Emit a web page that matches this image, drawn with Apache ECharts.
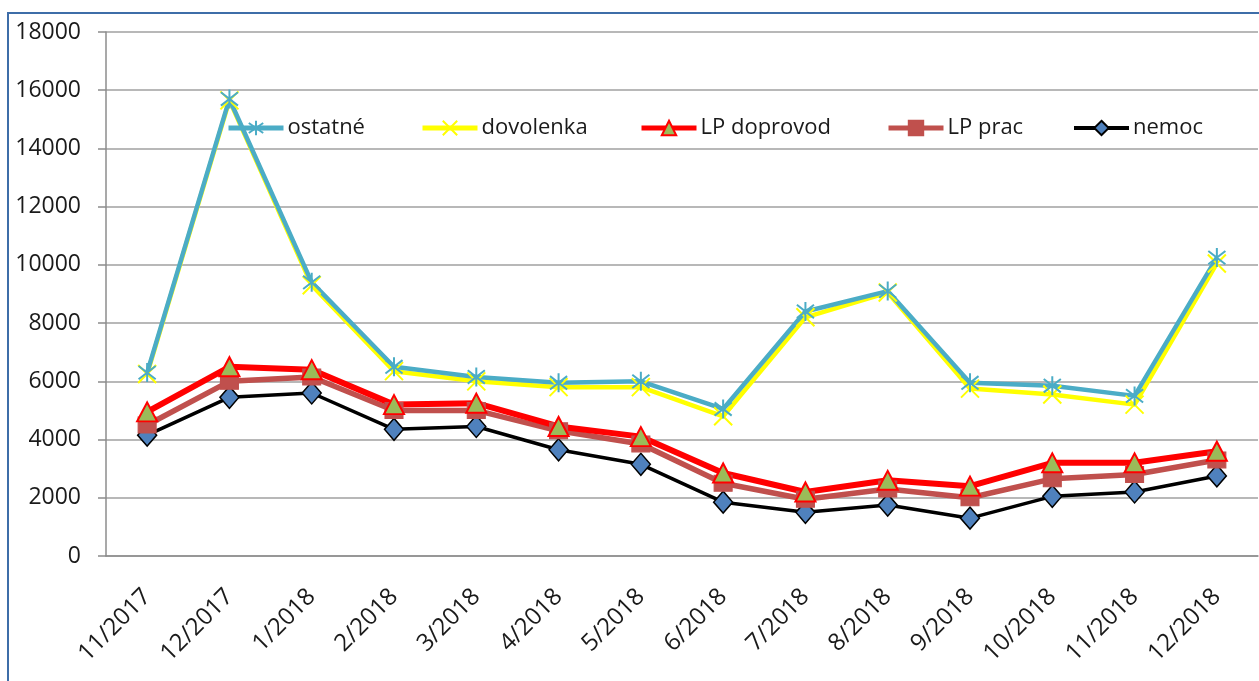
<!DOCTYPE html>
<html>
<head>
<meta charset="utf-8">
<script src="https://cdn.jsdelivr.net/npm/echarts@6/dist/echarts.min.js"></script>
<style>
  html, body { margin: 0; padding: 0; background: #fff; overflow: hidden; }
  #chart { width: 1259px; height: 681px; }
</style>
</head>
<body>
<div id="chart"></div>
<script>
const months = ['11/2017', '12/2017', '1/2018', '2/2018', '3/2018', '4/2018', '5/2018',
  '6/2018', '7/2018', '8/2018', '9/2018', '10/2018', '11/2018', '12/2018']
const ostatne = [6300, 15700, 9400, 6500, 6150, 5950, 6000, 5050, 8400, 9100, 5950, 5850, 5500, 10250]
const dovolenka = [6250, 15650, 9300, 6350, 6000, 5800, 5800, 4800, 8200, 9050, 5750, 5550, 5200, 10050]
const lpDoprovod = [4950, 6500, 6400, 5200, 5250, 4450, 4100, 2850, 2200, 2600, 2400, 3200, 3200, 3600]
const lpPrac = [4500, 6000, 6150, 5000, 5000, 4300, 3850, 2500, 1950, 2300, 2000, 2650, 2800, 3300]
const nemoc = [4150, 5450, 5600, 4350, 4450, 3650, 3150, 1850, 1500, 1750, 1300, 2050, 2200, 2750]

const FONT = 'Open Sans'
const starPath = 'path://M10,0L10,20M1,3L19,17M1,17L19,3'
const crossPath = 'path://M0,0L20,20M0,20L20,0'

const chart = echarts.init(document.getElementById('chart'))

// one legend per series so each entry sits where Excel put it
function legendAt(name, left, color, width) {
  return {
    data: [name],
    left: left,
    top: 117,
    padding: 0,
    itemWidth: 55,
    itemHeight: 18,
    itemGap: 0,
    lineStyle: { color: color, width: width },
    textStyle: { fontFamily: FONT, fontSize: 22, color: '#1a1a1a', padding: [0, 0, 0, -1] }
  }
}

chart.setOption({
  animation: false,
  graphic: [{
    type: 'rect',
    shape: { x: 8, y: 13, width: 1400, height: 800 },
    style: { fill: 'none', stroke: '#3E6DA8', lineWidth: 2 },
    silent: true
  }],
  legend: [
    legendAt('ostatné', 226, '#4BACC6', 5),
    legendAt('dovolenka', 420, '#FFFF00', 5),
    legendAt('LP doprovod', 639, '#FF0000', 5),
    legendAt('LP prac', 886, '#C0504D', 5),
    legendAt('nemoc', 1072, '#000000', 4)
  ],
  grid: { left: 106, right: 1, top: 32, bottom: 125, containLabel: false },
  xAxis: {
    type: 'category',
    data: months,
    boundaryGap: true,
    axisLine: { lineStyle: { color: '#8C8C8C', width: 1.5 } },
    axisTick: { alignWithLabel: false, length: 8, lineStyle: { color: '#8C8C8C', width: 1.5 } },
    axisLabel: { rotate: 45, margin: 37, interval: 0, fontFamily: FONT, fontSize: 24, color: '#1a1a1a' }
  },
  yAxis: {
    type: 'value',
    min: 0,
    max: 18000,
    interval: 2000,
    axisLine: { show: true, lineStyle: { color: '#8C8C8C', width: 1.5 } },
    axisTick: { show: true, inside: false, length: 8, lineStyle: { color: '#8C8C8C', width: 1.5 } },
    splitLine: { lineStyle: { color: '#A0A0A0', width: 1.5 } },
    axisLabel: {
      margin: 25, fontFamily: FONT, fontSize: 23, color: '#1a1a1a',
      formatter: v => String(v)
    }
  },
  series: [
    {
      name: 'nemoc', type: 'line', data: nemoc,
      symbol: 'diamond', symbolSize: [19, 22],
      lineStyle: { color: '#000000', width: 3.5 },
      itemStyle: { color: '#4F81BD', borderColor: '#000000', borderWidth: 1.5 }
    },
    {
      name: 'LP prac', type: 'line', data: lpPrac,
      symbol: 'rect', symbolSize: [18, 16],
      lineStyle: { color: '#C0504D', width: 5.5 },
      itemStyle: { color: '#C0504D', borderColor: '#C0504D', borderWidth: 1 }
    },
    {
      name: 'LP doprovod', type: 'line', data: lpDoprovod,
      symbol: 'triangle', symbolSize: [20, 19],
      lineStyle: { color: '#FF0000', width: 6 },
      itemStyle: { color: '#9BBB59', borderColor: '#FF0000', borderWidth: 2 }
    },
    {
      name: 'dovolenka', type: 'line', data: dovolenka,
      symbol: crossPath, symbolSize: 18, symbolKeepAspect: true,
      lineStyle: { color: '#FFFF00', width: 4.5 },
      itemStyle: { color: 'none', borderColor: '#FFFF00', borderWidth: 2 }
    },
    {
      name: 'ostatné', type: 'line', data: ostatne,
      symbol: starPath, symbolSize: 19, symbolKeepAspect: true,
      lineStyle: { color: '#4BACC6', width: 4.5 },
      itemStyle: { color: 'none', borderColor: '#4BACC6', borderWidth: 2 }
    }
  ]
})
</script>
</body>
</html>
